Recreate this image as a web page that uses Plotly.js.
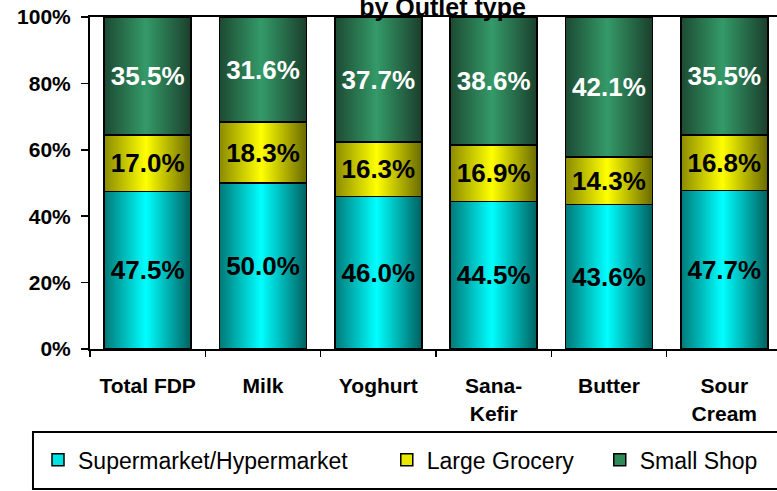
<!DOCTYPE html>
<html>
<head>
<meta charset="utf-8">
<script src="https://cdn.plot.ly/plotly-3.0.1.min.js"></script>
<style>
html,body{margin:0;padding:0;background:#fff;}
#chart{width:777px;height:491px;}
</style>
</head>
<body>
<div id="chart"></div>
<script>
const categories = ["Total FDP", "Milk", "Yoghurt", "Sana-<br>Kefir", "Butter", "Sour<br>Cream"];
const seriesNames = ["Supermarket/Hypermarket", "Large Grocery", "Small Shop"];
const supermarket = [47.5, 50.0, 46.0, 44.5, 43.6, 47.7];
const largeGrocery = [17.0, 18.3, 16.3, 16.9, 14.3, 16.8];
const smallShop = [35.5, 31.6, 37.7, 38.6, 42.1, 35.5];
const yTicks = [0, 20, 40, 60, 80, 100];
const yTickLabels = ["0%", "20%", "40%", "60%", "80%", "100%"];

const FONT = "Liberation Sans, Arial, sans-serif";
const legendColors = ["#00e3e3", "#e8e800", "#2e8b57"];
const textColors = ["#000000", "#000000", "#ffffff"];
const gradients = [
  ["gradCyan",   ["#007878", "#00ffff", "#006060"]],
  ["gradYellow", ["#8a8a00", "#ffff00", "#6a6a00"]],
  ["gradGreen",  ["#1c4a32", "#349a68", "#1a3f2c"]]
];
const seriesValues = [supermarket, largeGrocery, smallShop];
const legendIds = ["legend", "legend2", "legend3"];

const data = seriesValues.map((vals, i) => ({
  type: "bar",
  name: seriesNames[i],
  x: categories,
  y: vals,
  legend: legendIds[i],
  marker: {color: legendColors[i], line: {color: "#000", width: 1.5}},
  texttemplate: "%{y:.1f}%",
  textposition: "inside",
  insidetextanchor: "middle",
  textangle: 0,
  textfont: {family: FONT, size: 26, weight: "bold", color: textColors[i]},
  hoverinfo: "skip"
}));

const legendBase = {
  orientation: "h",
  xanchor: "left",
  yanchor: "middle",
  y: -0.334,
  bgcolor: "rgba(0,0,0,0)",
  borderwidth: 0,
  font: {family: FONT, size: 23, color: "#000"}
};

const layout = {
  width: 777,
  height: 491,
  margin: {l: 90, r: 0, t: 17, b: 142, autoexpand: false},
  paper_bgcolor: "#fff",
  plot_bgcolor: "#fff",
  barmode: "stack",
  bargap: 0.245,
  showlegend: true,
  font: {family: FONT, color: "#000"},
  title: {
    text: "by Outlet type",
    font: {family: FONT, size: 25, weight: "bold", color: "#000"},
    xref: "container", x: 0.5695, xanchor: "center",
    yref: "container", y: 0.986, yanchor: "middle"
  },
  xaxis: {
    type: "category",
    range: [-0.5, 5.457],
    showline: true, linecolor: "#000", linewidth: 2, mirror: true,
    ticks: "outside", tickson: "boundaries", ticklen: 6, tickwidth: 1.5, tickcolor: "#000",
    showgrid: false, zeroline: false,
    tickfont: {family: FONT, size: 21, weight: "bold", color: "#000"},
    ticklabelstandoff: 17
  },
  yaxis: {
    range: [0, 100],
    tickmode: "array",
    tickvals: yTicks,
    ticktext: yTickLabels,
    showline: true, linecolor: "#000", linewidth: 2,
    ticks: "outside", ticklen: 7, tickwidth: 1.5, tickcolor: "#000",
    showgrid: false, zeroline: false,
    tickfont: {family: FONT, size: 21, weight: "bold", color: "#000"},
    ticklabelstandoff: 6
  },
  legend:  Object.assign({}, legendBase, {x: -0.0757}),
  legend2: Object.assign({}, legendBase, {x: 0.432}),
  legend3: Object.assign({}, legendBase, {x: 0.742}),
  shapes: [{
    type: "rect", xref: "paper", yref: "paper",
    x0: -0.083, x1: 1.05, y0: -0.25, y1: -0.4217,
    line: {color: "#000", width: 2}, fillcolor: "rgba(0,0,0,0)", layer: "below"
  }]
};

Plotly.newPlot("chart", data, layout, {staticPlot: true, displayModeBar: false}).then(gd => {
  try {
    const ns = "http://www.w3.org/2000/svg";
    const svg = gd.querySelector("svg.main-svg");
    let defs = svg.querySelector("defs");
    if (!defs) { defs = document.createElementNS(ns, "defs"); svg.insertBefore(defs, svg.firstChild); }
    gradients.forEach(([id, cols]) => {
      const g = document.createElementNS(ns, "linearGradient");
      g.setAttribute("id", id);
      g.setAttribute("x1", "0"); g.setAttribute("y1", "0");
      g.setAttribute("x2", "1"); g.setAttribute("y2", "0");
      [[0, cols[0]], [0.48, cols[1]], [1, cols[2]]].forEach(([o, c]) => {
        const s = document.createElementNS(ns, "stop");
        s.setAttribute("offset", o);
        s.setAttribute("stop-color", c);
        g.appendChild(s);
      });
      defs.appendChild(g);
    });
    const traces = gd.querySelectorAll(".barlayer .trace.bars");
    traces.forEach((tr, i) => {
      tr.querySelectorAll("g.point > path").forEach(p => {
        p.style.fill = "url(#" + gradients[i][0] + ")";
      });
    });
  } catch (e) { console.log(e); }
});
</script>
</body>
</html>
